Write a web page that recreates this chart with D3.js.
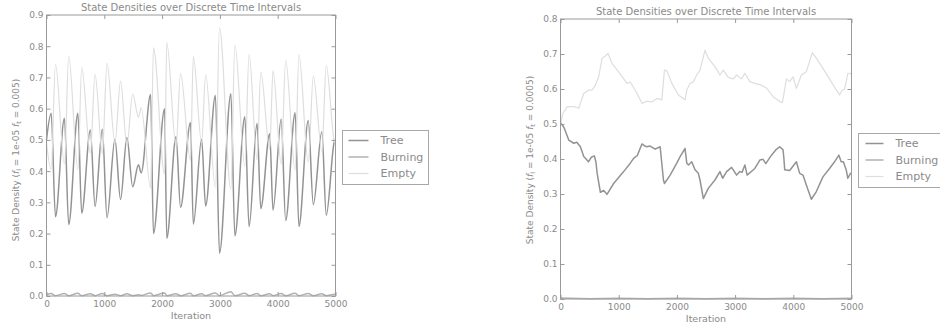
<!DOCTYPE html>
<html><head><meta charset="utf-8">
<script src="https://cdn.jsdelivr.net/npm/d3@7"></script>
<style>
body{margin:0;background:#fff}
svg{display:block}
text{font-family:"DejaVu Sans",sans-serif}
</style>
</head><body>
<svg id="chart" width="940" height="328"></svg>
<script>
// ---------- data ----------
const seriesNames = ["Tree", "Burning", "Empty"];
const titleText = "State Densities over Discrete Time Intervals";
const xLabelText = "Iteration";
const xTicks = [0, 1000, 2000, 3000, 4000, 5000];
const leftYTicks = [0, 0.1, 0.2, 0.3, 0.4, 0.5, 0.6, 0.7, 0.8, 0.9];
const rightYTicks = [0, 0.1, 0.2, 0.3, 0.4, 0.5, 0.6, 0.7, 0.8];
const leftParamText = "0.005";
const rightParamText = "0.0005";

// left panel: iterations of the turning points and values there
const leftIter = [0, 81, 155, 310, 384, 543, 609, 759, 840, 966, 1047, 1184, 1281, 1391, 1491, 1591, 1638,
  1802, 1850, 2043, 2081, 2241, 2319, 2491, 2540, 2684, 2753, 2922, 2993, 3190, 3259, 3431, 3505, 3643,
  3707, 3862, 3919, 4060, 4138, 4302, 4367, 4529, 4616, 4764, 4840, 4983, 5000];
const leftTree = [0.50, 0.585, 0.254, 0.569, 0.229, 0.585, 0.265, 0.532, 0.287, 0.534, 0.251, 0.502, 0.309,
  0.508, 0.35, 0.42, 0.394, 0.645, 0.20, 0.60, 0.185, 0.51, 0.284, 0.556, 0.23, 0.502, 0.288, 0.642, 0.137,
  0.648, 0.193, 0.574, 0.222, 0.553, 0.28, 0.52, 0.275, 0.567, 0.242, 0.587, 0.223, 0.562, 0.293, 0.526,
  0.259, 0.497, 0.50];
const leftBurning = [0.004, 0.008, 0.001, 0.008, 0.001, 0.009, 0.001, 0.007, 0.001, 0.008, 0.001, 0.006, 0.001,
  0.007, 0.001, 0.004, 0.002, 0.010, 0.001, 0.010, 0.001, 0.007, 0.001, 0.009, 0.001, 0.007, 0.001, 0.010, 0.001,
  0.014, 0.001, 0.009, 0.001, 0.008, 0.001, 0.007, 0.001, 0.008, 0.001, 0.009, 0.001, 0.008, 0.001, 0.007,
  0.001, 0.006, 0.005];
const leftEmpty = [0.49, 0.405, 0.743, 0.423, 0.768, 0.405, 0.732, 0.458, 0.71, 0.456, 0.746, 0.49, 0.688,
  0.483, 0.647, 0.573, 0.603, 0.345, 0.795, 0.39, 0.812, 0.48, 0.713, 0.434, 0.767, 0.49, 0.709, 0.348, 0.86,
  0.342, 0.804, 0.416, 0.775, 0.437, 0.717, 0.47, 0.722, 0.423, 0.755, 0.403, 0.774, 0.428, 0.704, 0.464,
  0.738, 0.493, 0.49];

// right panel: [iteration, value]
const rightTree = [[0,0.504],[60,0.49],[142,0.454],[228,0.445],[280,0.448],[342,0.435],[399,0.407],[440,0.40],
  [480,0.392],[530,0.405],[582,0.409],[610,0.39],[630,0.359],[685,0.305],[742,0.31],[799,0.299],[913,0.33],
  [1085,0.364],[1199,0.388],[1256,0.402],[1320,0.41],[1399,0.443],[1440,0.438],[1484,0.435],[1540,0.437],
  [1627,0.428],[1712,0.435],[1769,0.34],[1786,0.33],[1884,0.354],[1998,0.388],[2055,0.407],[2140,0.43],
  [2170,0.388],[2200,0.383],[2255,0.392],[2312,0.369],[2368,0.359],[2397,0.34],[2454,0.287],[2539,0.316],
  [2654,0.34],[2740,0.364],[2786,0.345],[2854,0.364],[2940,0.376],[3026,0.354],[3082,0.364],[3120,0.362],
  [3168,0.383],[3207,0.354],[3339,0.373],[3425,0.397],[3481,0.399],[3527,0.387],[3625,0.411],[3699,0.426],
  [3767,0.435],[3824,0.426],[3838,0.402],[3853,0.369],[3938,0.367],[4053,0.392],[4110,0.359],[4166,0.354],
  [4224,0.326],[4310,0.285],[4396,0.307],[4509,0.349],[4623,0.373],[4709,0.392],[4783,0.411],[4823,0.392],
  [4860,0.392],[4909,0.369],[4937,0.345],[4983,0.359],[5000,0.36]];
const rightBurning = [[0,0.003],[500,0.001],[1000,0.002],[1500,0.001],[2000,0.002],[2500,0.001],[3000,0.002],
  [3500,0.001],[4000,0.002],[4500,0.001],[5000,0.002]];
const rightEmpty = [[0,0.50],[40,0.53],[114,0.549],[228,0.55],[314,0.545],[399,0.587],[485,0.597],[545,0.597],
  [599,0.611],[656,0.635],[714,0.688],[770,0.694],[816,0.702],[885,0.673],[999,0.649],[1142,0.616],[1199,0.62],
  [1313,0.588],[1399,0.559],[1484,0.565],[1570,0.563],[1656,0.573],[1741,0.569],[1786,0.654],[1827,0.652],
  [1913,0.616],[2026,0.583],[2140,0.569],[2170,0.597],[2226,0.616],[2283,0.62],[2340,0.64],[2397,0.654],
  [2483,0.711],[2539,0.688],[2654,0.664],[2740,0.64],[2797,0.654],[2882,0.633],[2968,0.629],[3026,0.64],
  [3111,0.629],[3168,0.645],[3253,0.621],[3339,0.616],[3453,0.611],[3544,0.602],[3653,0.578],[3767,0.564],
  [3813,0.561],[3882,0.629],[3938,0.621],[3995,0.635],[4053,0.602],[4139,0.64],[4224,0.649],[4327,0.704],
  [4396,0.688],[4509,0.659],[4623,0.629],[4709,0.605],[4795,0.583],[4840,0.597],[4880,0.599],[4909,0.621],
  [4937,0.645],[4978,0.645],[5000,0.64]];

// ---------- drawing ----------
const svg = d3.select("#chart");
const TEXT = "#8a8a8a", SPINE = "#9a9a9a";
const colors = {Tree: "#939393", Burning: "#b2b2b2", Empty: "#dedede"};
const widths = {Tree: 1.5, Burning: 1.5, Empty: 1.2};

function drawPanel(cfg) {
  const x = d3.scaleLinear().domain([0, 5000]).range([cfg.left, cfg.right]);
  const y = d3.scaleLinear().domain([0, cfg.yTicks[cfg.yTicks.length - 1]]).range([cfg.bottom, cfg.top]);
  const g = svg.append("g");

  const line = d3.line().x(d => x(d[0])).y(d => y(d[1])).curve(cfg.curve);
  const order = ["Tree", "Burning", "Empty"];
  order.forEach(name => {
    g.append("path").datum(cfg.series[name])
      .attr("fill", "none").attr("stroke", colors[name])
      .attr("stroke-width", widths[name]).attr("stroke-linejoin", "round")
      .attr("d", line);
  });

  const styleAxis = sel => {
    sel.select(".domain").remove();
    sel.selectAll("line").attr("stroke", SPINE);
    sel.selectAll("text").attr("fill", TEXT).style("font-size", "9px").style("font-family", "DejaVu Sans");
  };
  const yFmt = d3.format(".1f");
  g.append("g").attr("transform", `translate(${cfg.left},0)`)
    .call(d3.axisLeft(y).tickValues(cfg.yTicks).tickFormat(yFmt).tickSize(-4).tickPadding(3)).call(styleAxis);
  g.append("g").attr("transform", `translate(${cfg.right},0)`)
    .call(d3.axisRight(y).tickValues(cfg.yTicks).tickFormat("").tickSize(-4)).call(styleAxis);
  g.append("g").attr("transform", `translate(0,${cfg.bottom})`)
    .call(d3.axisBottom(x).tickValues(xTicks).tickFormat(d3.format("d")).tickSize(-4).tickPadding(5)).call(styleAxis);
  g.append("g").attr("transform", `translate(0,${cfg.top})`)
    .call(d3.axisTop(x).tickValues(xTicks).tickFormat("").tickSize(-4)).call(styleAxis);

  g.append("rect").attr("x", cfg.left).attr("y", cfg.top)
    .attr("width", cfg.right - cfg.left).attr("height", cfg.bottom - cfg.top)
    .attr("fill", "none").attr("stroke", SPINE).attr("stroke-width", 1);

  const cx = (cfg.left + cfg.right) / 2;
  g.append("text").attr("x", cx).attr("y", cfg.top - 4).attr("text-anchor", "middle")
    .attr("fill", TEXT).style("font-size", "10px").text(titleText);
  g.append("text").attr("x", cx).attr("y", cfg.bottom + 23).attr("text-anchor", "middle")
    .attr("fill", TEXT).style("font-size", "9.5px").text(xLabelText);

  const yl = g.append("text").attr("transform", `translate(${cfg.ylx},${cfg.yly}) rotate(-90)`)
    .attr("text-anchor", "middle").attr("fill", TEXT).style("font-size", "9px");
  yl.append("tspan").text("State Density (");
  yl.append("tspan").style("font-style", "italic").text("f");
  yl.append("tspan").attr("dy", 2).style("font-size", "6.5px").text("l");
  yl.append("tspan").attr("dy", -2).text(" = 1e-05 ");
  yl.append("tspan").style("font-style", "italic").text("f");
  yl.append("tspan").attr("dy", 2).style("font-size", "6.5px").text("t");
  yl.append("tspan").attr("dy", -2).text(" = " + cfg.param + ")");

  // legend
  const lg = g.append("g").attr("transform", `translate(${cfg.lx},${cfg.ly})`);
  lg.append("rect").attr("x", 0).attr("y", 0).attr("width", 86).attr("height", 54)
    .attr("fill", "#fff").attr("stroke", "#a8a8a8").attr("stroke-width", 1);
  seriesNames.forEach((name, i) => {
    const ry = 10 + i * 16.5;
    lg.append("line").attr("x1", cfg.sx0).attr("x2", cfg.sx1).attr("y1", ry).attr("y2", ry)
      .attr("stroke", colors[name]).attr("stroke-width", widths[name]);
    lg.append("text").attr("x", cfg.tx).attr("y", ry).attr("dy", "0.36em")
      .attr("fill", TEXT).style("font-size", "11px").text(name);
  });
}

const zip = (xs, ys) => xs.map((v, i) => [v, ys[i]]);

drawPanel({
  left: 46.5, right: 335.5, top: 15, bottom: 296, yTicks: leftYTicks, curve: d3.curveMonotoneX,
  series: {Tree: zip(leftIter, leftTree), Burning: zip(leftIter, leftBurning), Empty: zip(leftIter, leftEmpty)},
  ylx: 19, yly: 160, param: leftParamText,
  lx: 342.5, ly: 130.5, sx0: 6, sx1: 26, tx: 38
});
drawPanel({
  left: 560.5, right: 851.5, top: 19, bottom: 299, yTicks: rightYTicks, curve: d3.curveLinear,
  series: {Tree: rightTree, Burning: rightBurning, Empty: rightEmpty},
  ylx: 533, yly: 160, param: rightParamText,
  lx: 858.5, ly: 133.5, sx0: 7, sx1: 25, tx: 37
});
</script>
</body></html>
